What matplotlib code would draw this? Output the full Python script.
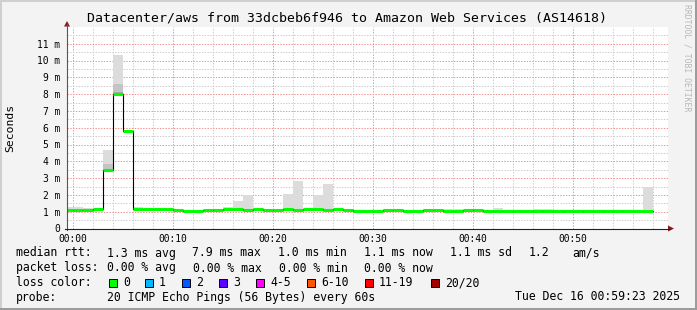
import numpy as np
import matplotlib
matplotlib.use('Agg')
import matplotlib.pyplot as plt
from matplotlib.patches import Polygon, Rectangle

plt.rcParams['font.family'] = 'DejaVu Sans Mono'

# datos: un intervalo por minuto (inicio del intervalo, en minutos desde 00:00)
minutos = np.arange(-1, 58)
mediana = [1.10, 1.10, 1.10, 1.16, 3.50, 8.00, 5.80, 1.18, 1.16, 1.16,
           1.18, 1.12, 1.04, 1.04, 1.10, 1.10, 1.15, 1.15, 1.12, 1.16,
           1.12, 1.12, 1.16, 1.12, 1.16, 1.16, 1.12, 1.18, 1.12, 1.04,
           1.04, 1.04, 1.12, 1.12, 1.04, 1.04, 1.12, 1.12, 1.04, 1.04,
           1.12, 1.12, 1.04, 1.04, 1.04, 1.04, 1.04, 1.04, 1.04, 1.04,
           1.04, 1.04, 1.04, 1.04, 1.04, 1.04, 1.04, 1.04, 1.04]
humo_max = [1.27, 1.27, 1.22, 1.16, 4.65, 10.33, 5.80, 1.25, 1.16, 1.16,
            1.22, 1.14, 1.12, 1.12, 1.12, 1.12, 1.26, 1.62, 1.98, 1.24,
            1.18, 1.18, 2.04, 2.82, 1.16, 1.98, 2.64, 1.18, 1.12, 1.12,
            1.12, 1.12, 1.18, 1.18, 1.06, 1.08, 1.16, 1.16, 1.14, 1.14,
            1.12, 1.12, 1.10, 1.20, 1.10, 1.10, 1.10, 1.14, 1.14, 1.12,
            1.10, 1.10, 1.10, 1.10, 1.10, 1.10, 1.10, 1.04, 2.46]
humo_min = [1.06, 1.06, 1.06, 1.10, 3.40, 7.90, 5.80, 1.12, 1.10, 1.10,
            1.12, 1.06, 1.00, 1.00, 1.04, 1.04, 1.10, 1.10, 1.06, 1.10,
            1.06, 1.06, 1.10, 1.06, 1.10, 1.10, 1.06, 1.12, 1.06, 1.00,
            1.00, 1.00, 1.06, 1.06, 1.00, 1.00, 1.06, 1.06, 1.00, 1.00,
            1.06, 1.06, 1.00, 1.00, 1.00, 1.00, 1.00, 1.00, 1.00, 1.00,
            1.00, 1.00, 1.00, 1.00, 1.00, 1.00, 1.00, 0.94, 1.00]
# humo mas denso cerca de la mediana
humo_denso = [1.10, 1.10, 1.10, 1.16, 3.85, 8.60, 5.80] + [None] * 52

etiquetas_x = ['00:00', '00:10', '00:20', '00:30', '00:40', '00:50']
etiquetas_y = ['0'] + ['%d m' % i for i in range(1, 12)]

leyenda_rtt = ['1.3 ms avg', '7.9 ms max', '1.0 ms min', '1.1 ms now', '1.1 ms sd', '1.2', 'am/s']
leyenda_loss = ['0.00 % avg', '0.00 % max', '0.00 % min', '0.00 % now']
colores_loss = ['#00ff00', '#00b8ff', '#0059ff', '#5e00ff', '#ff00ff', '#ff5500', '#ff0000', '#a10000']
nombres_loss = ['0', '1', '2', '3', '4-5', '6-10', '11-19', '20/20']

W, H = 697, 310
fig = plt.figure(figsize=(W / 100, H / 100), dpi=100)
fig.patch.set_facecolor('#f3f3f3')

x0, y0, x1, y1 = 67, 26.9, 668, 228.5
ax = fig.add_axes([x0 / W, 1 - y1 / H, (x1 - x0) / W, (y1 - y0) / H])
ax.set_facecolor('white')
ax.set_xlim(-0.57, 59.53)
ax.set_ylim(0, 12)
for s in ax.spines.values():
    s.set_visible(False)

# rejilla
punteado = (0, (1.4, 1.4))
for m in np.arange(0, 60, 2):
    if m % 10 != 0:
        ax.axvline(m, color='#cccccc', lw=0.72, ls=punteado, zorder=0)
for m in range(0, 60, 10):
    ax.axvline(m, color='#f29494', lw=0.72, ls=punteado, zorder=0)
for v in np.arange(0.5, 12, 1.0):
    ax.axhline(v, color='#cccccc', lw=0.72, ls=punteado, zorder=0)
for v in range(1, 12):
    ax.axhline(v, color='#f29494', lw=0.72, ls=punteado, zorder=0)

med = np.array(mediana)
hi = np.array(humo_max)
lo = np.array(humo_min)
ax.bar(minutos, hi - lo, bottom=lo, width=1, align='edge', color='#dcdcdc', lw=0, zorder=1)
for m, d, md in zip(minutos, humo_denso, mediana):
    if d is not None and d > md:
        ax.bar(m, d - md + 0.1, bottom=md - 0.1, width=1, align='edge', color='#c4c4c4', lw=0, zorder=1)
ax.bar(4, 0.2, bottom=7.95, width=1, align='edge', color='#a8a8a8', lw=0, zorder=1)

ax.step(np.append(minutos, 58), np.append(med, med[-1]), where='post', color='black', lw=0.8, zorder=2)
ax.hlines(med, minutos, minutos + 1, colors='#00ff00', lw=2.2, zorder=3)

ax.set_xticks(range(0, 60, 10))
ax.set_xticklabels(etiquetas_x)
ax.set_yticks(range(0, 12))
ax.set_yticklabels(etiquetas_y)
ax.tick_params(length=0, labelsize=6.9, colors='black')
ax.tick_params(axis='y', pad=5)
ax.tick_params(axis='x', pad=4)

# capa superpuesta en pixeles para ejes, flechas, textos
ov = fig.add_axes([0, 0, 1, 1], facecolor='none')
ov.set_xlim(0, W)
ov.set_ylim(H, 0)
ov.axis('off')

ov.plot([x0, x0], [y1 + 1, 24], color='#555555', lw=0.8)
ov.plot([x0 - 2, 670], [y1, y1], color='#222222', lw=0.8)
ov.add_patch(Polygon([[64, 26.5], [70, 26.5], [67, 21]], closed=True, color='#8b1a1a', lw=0))
ov.add_patch(Polygon([[668, 225.5], [668, 231.5], [674, 228.5]], closed=True, color='#8b1a1a', lw=0))

# marco
ov.plot([0.5, W - 0.5], [0.8, 0.8], color='#cfcfcf', lw=1.4)
ov.plot([0.8, 0.8], [0.5, H - 0.5], color='#cfcfcf', lw=1.4)
ov.plot([0.5, W - 0.5], [H - 0.8, H - 0.8], color='#9a9a9a', lw=1.4)
ov.plot([W - 0.8, W - 0.8], [0.5, H - 0.5], color='#9a9a9a', lw=1.4)

ov.text(347, 18, 'Datacenter/aws from 33dcbeb6f946 to Amazon Web Services (AS14618)',
        ha='center', va='center', fontsize=9.55)
ov.text(10, 127.7, 'Seconds', rotation=90, ha='center', va='center', fontsize=8.2)
ov.text(687, 4, 'RRDTOOL / TOBI OETIKER', rotation=270, ha='center', va='top',
        fontsize=5.9, color='#b8b8b8')

fs = 8.3
ov.text(16, 253, 'median rtt:', va='center', fontsize=fs)
for xp, t in zip([107, 192, 278, 364, 450, 529, 572], leyenda_rtt):
    ov.text(xp, 253, t, va='center', fontsize=fs)
ov.text(16, 268, 'packet loss:', va='center', fontsize=fs)
for xp, t in zip([107, 193, 279, 364], leyenda_loss):
    ov.text(xp, 268, t, va='center', fontsize=fs)
ov.text(16, 283, 'loss color:', va='center', fontsize=fs)
cajas_x = [109, 145, 182, 219, 256, 307, 365, 431]
for xp, c, t in zip(cajas_x, colores_loss, nombres_loss):
    ov.add_patch(Rectangle((xp, 278.5), 8, 8, facecolor=c, edgecolor='black', lw=0.7))
    ov.text(xp + 14, 283, t, va='center', fontsize=fs)
ov.text(16, 297, 'probe:', va='center', fontsize=fs)
ov.text(107, 297, '20 ICMP Echo Pings (56 Bytes) every 60s', va='center', fontsize=fs)
ov.text(680, 297, 'Tue Dec 16 00:59:23 2025', ha='right', va='center', fontsize=fs)

fig.savefig('out.png', dpi=100, facecolor=fig.get_facecolor())
